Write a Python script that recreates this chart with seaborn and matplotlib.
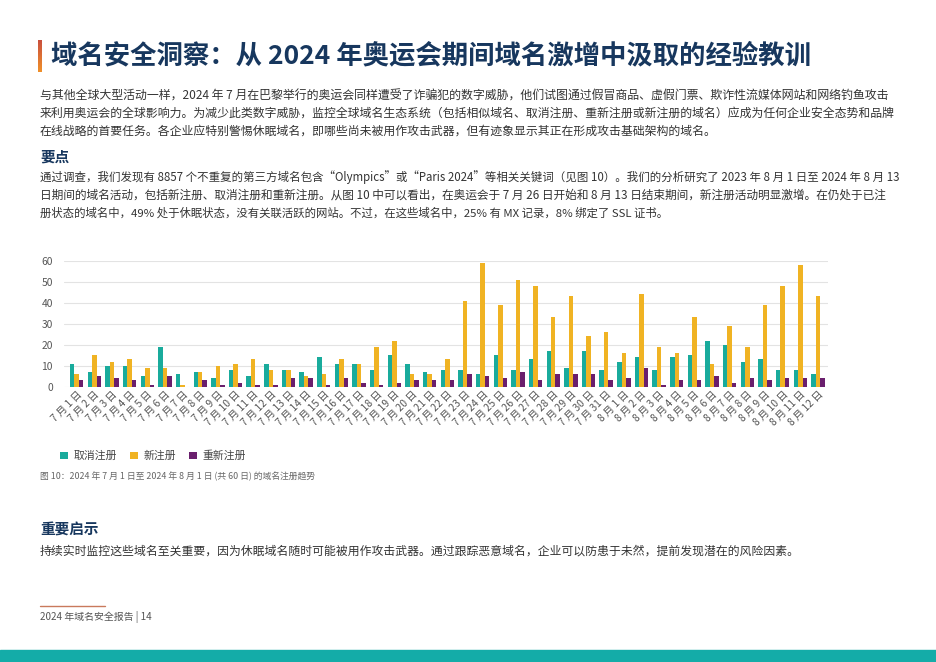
import numpy as np
import pandas as pd
import matplotlib
matplotlib.use("Agg")
import matplotlib.pyplot as plt
import seaborn as sns
from matplotlib.colors import LinearSegmentedColormap

# ---------------- data ----------------
dates = ([f"7 月 {d} 日" for d in range(1, 32)] +
         [f"8 月 {d} 日" for d in range(1, 13)])
cancelled = [11, 7, 10, 10, 5, 19, 6, 7, 4, 8, 5, 11, 8, 7,
             14, 11, 11, 8, 15, 11, 7, 8, 8, 6, 15, 8, 13, 17, 9,
             17, 8,
             12, 14, 8, 14, 15, 22, 20, 12, 13, 8, 8, 6]
new_reg = [6, 15, 12, 13, 9, 9, 1, 7, 10, 11, 13, 8, 8, 5,
           6, 13, 11, 19, 22, 6, 6, 13, 41, 59, 39, 51, 48, 33, 43,
           24, 26,
           16, 44, 19, 16, 33, 11, 29, 19, 39, 48, 58, 43]
re_reg = [3, 5, 4, 3, 1, 5, 0, 3, 1, 2, 1, 1, 4, 4,
          1, 4, 2, 1, 2, 3, 3, 3, 6, 5, 4, 7, 3, 6, 6,
          6, 3,
          4, 9, 1, 3, 3, 5, 2, 4, 3, 4, 4, 4]
series_names = ["取消注册", "新注册", "重新注册"]
y_ticks = [0, 10, 20, 30, 40, 50, 60]

title = "域名安全洞察：从 2024 年奥运会期间域名激增中汲取的经验教训"
para1 = [
    "与其他全球大型活动一样，2024 年 7 月在巴黎举行的奥运会同样遭受了诈骗犯的数字威胁，他们试图通过假冒商品、虚假门票、欺诈性流媒体网站和网络钓鱼攻击",
    "来利用奥运会的全球影响力。为减少此类数字威胁，监控全球域名生态系统（包括相似域名、取消注册、重新注册或新注册的域名）应成为任何企业安全态势和品牌",
    "在线战略的首要任务。各企业应特别警惕休眠域名，即哪些尚未被用作攻击武器，但有迹象显示其正在形成攻击基础架构的域名。",
]
head2 = "要点"
para2 = [
    "通过调查，我们发现有 8857 个不重复的第三方域名包含“Olympics”或“Paris 2024”等相关关键词（见图 10）。我们的分析研究了 2023 年 8 月 1 日至 2024 年 8 月 13",
    "日期间的域名活动，包括新注册、取消注册和重新注册。从图 10 中可以看出，在奥运会于 7 月 26 日开始和 8 月 13 日结束期间，新注册活动明显激增。在仍处于已注",
    "册状态的域名中，49% 处于休眠状态，没有关联活跃的网站。不过，在这些域名中，25% 有 MX 记录，8% 绑定了 SSL 证书。",
]
caption = "图 10：2024 年 7 月 1 日至 2024 年 8 月 1 日 (共 60 日) 的域名注册趋势"
head3 = "重要启示"
para3 = "持续实时监控这些域名至关重要，因为休眠域名随时可能被用作攻击武器。通过跟踪恶意域名，企业可以防患于未然，提前发现潜在的风险因素。"
footer = "2024 年域名安全报告 | 14"

# ---------------- style ----------------
sns.set_theme(style="white")
plt.rcParams["font.family"] = ["Noto Sans CJK SC", "DejaVu Sans"]

W, H = 936, 662
fig = plt.figure(figsize=(W / 100, H / 100), dpi=100)
fig.patch.set_facecolor("white")
renderer = fig.canvas.get_renderer()


def fx(px):
    return px / W


def fy(py):
    return 1 - py / H


NAVY = "#17375e"
TEXT = "#333333"
TEAL = "#19ab9c"
GOLD = "#f0b323"
PURPLE = "#6a1f6d"

# accent bar (gradient)
bar_ax = fig.add_axes([fx(38), fy(72), fx(4), (72 - 40) / H])
grad = np.linspace(0, 1, 64).reshape(-1, 1)
cm = LinearSegmentedColormap.from_list("acc", ["#c9503e", "#f0902a"])
bar_ax.imshow(grad, aspect="auto", cmap=cm)
bar_ax.axis("off")

fig.text(fx(51), fy(56), title, fontsize=19, fontweight="bold", color=NAVY,
         va="center", ha="left")


def fit_line(txt, x, y, end_px, size, color=TEXT, **kw):
    """Place a line of text, scaling its size so it ends near end_px."""
    t = fig.text(fx(x), fy(y), txt, fontsize=size, color=color, va="center",
                 ha="left", **kw)
    w = t.get_window_extent(renderer).width
    target = end_px - x
    new = size * target / w
    t.set_fontsize(max(min(new, size * 1.08), size * 0.9))
    return t


p1_ends = [888, 889, 713]
for i, line in enumerate(para1):
    fit_line(line, 40, 96 + i * 17.6, p1_ends[i], 8.6)

fig.text(fx(40), fy(157), head2, fontsize=10.5, fontweight="bold", color=NAVY,
         va="center", ha="left")
p2_ends = [893, 885, 666]
for i, line in enumerate(para2):
    fit_line(line, 40, 177 + i * 18, p2_ends[i], 8.6)

# ---------------- chart ----------------
df = pd.DataFrame({
    "date": dates * 3,
    "value": cancelled + new_reg + re_reg,
    "series": [series_names[0]] * len(dates) + [series_names[1]] * len(dates)
              + [series_names[2]] * len(dates),
})
ax_left, ax_right = 64, 828
ax_bottom, ax_top = 386.7, 260.7
ax = fig.add_axes([fx(ax_left), fy(ax_bottom), fx(ax_right - ax_left),
                   (ax_bottom - ax_top) / H])
sns.barplot(data=df, x="date", y="value", hue="series", order=dates,
            hue_order=series_names, palette=[TEAL, GOLD, PURPLE],
            width=0.76, gap=0, errorbar=None, ax=ax, saturation=1,
            linewidth=0, edgecolor="none")
ax.set_ylim(0, 60)
ax.set_xlim(-0.72, len(dates) - 1 + 0.57)
ax.set_yticks(y_ticks)
ax.yaxis.grid(True, color="#e3e3e3", linewidth=0.8)
ax.set_axisbelow(True)
for s in ax.spines.values():
    s.set_visible(False)
ax.set_xlabel("")
ax.set_ylabel("")
ax.tick_params(axis="both", length=0, labelsize=7.4, colors="#555555")
ax.tick_params(axis="y", pad=8)
ax.tick_params(axis="x", pad=2)
for lab in ax.get_xticklabels():
    lab.set_rotation(45)
    lab.set_ha("right")
    lab.set_rotation_mode("anchor")

sns.move_legend(ax, loc="center left", bbox_to_anchor=(fx(50), fy(456)),
                bbox_transform=fig.transFigure, ncol=3, frameon=False,
                title=None, fontsize=7.8, handlelength=0.75, handleheight=0.75,
                handletextpad=0.5, columnspacing=1.2, labelcolor="#444444")

fit_line(caption, 40, 476, 313, 6.6, color="#666666", style="italic")

fig.text(fx(40), fy(530), head3, fontsize=10.5, fontweight="bold", color=NAVY,
         va="center", ha="left")
fit_line(para3, 40, 551, 793, 8.6)

# footer rule + text
fig.add_artist(plt.Line2D([fx(40), fx(105)], [fy(606), fy(606)],
                          color="#c97a5c", linewidth=1, transform=fig.transFigure))
fit_line(footer, 40, 617, 152, 7, color="#555555")

# bottom teal band
fig.add_artist(plt.Rectangle((0, 0), 1, 12 / H, color="#14aca8",
                             transform=fig.transFigure, zorder=0))

fig.savefig("out.png", dpi=100, facecolor="white")
